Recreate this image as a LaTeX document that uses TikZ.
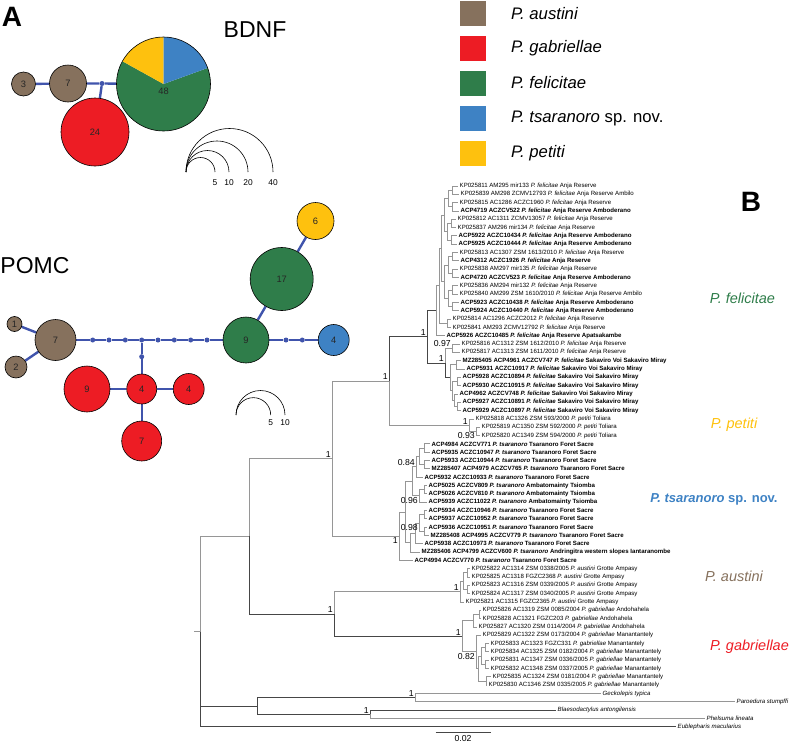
\documentclass[tikz,border=0pt]{standalone}
\usepackage{fontspec}
\setmainfont{Liberation Sans}
\usetikzlibrary{backgrounds}

\definecolor{caus}{RGB}{134,113,93}
\definecolor{cgab}{RGB}{237,28,36}
\definecolor{cfel}{RGB}{47,125,74}
\definecolor{ctsa}{RGB}{62,130,196}
\definecolor{cpet}{RGB}{254,193,14}
\definecolor{clink}{RGB}{64,84,172}
\definecolor{ctree}{RGB}{150,150,150}
\definecolor{ctreed}{RGB}{70,70,70}

\newcommand{\Pfel}{\textit{P. felicitae}}
\newcommand{\Ppet}{\textit{P. petiti}}
\newcommand{\Ptsa}{\textit{P. tsaranoro}}
\newcommand{\Paus}{\textit{P. austini}}
\newcommand{\Pgab}{\textit{P. gabriellae}}

\tikzset{
  panel/.style={font=\fontsize{28}{28}\selectfont\bfseries, inner sep=0pt},
  gene/.style={font=\fontsize{23}{23}\selectfont, inner sep=0pt},
  keybox/.style={minimum width=26pt, minimum height=25pt, inner sep=0pt},
  keytext/.style={anchor=west, inner sep=0pt, font=\fontsize{16.7}{17}\selectfont},
  hap/.style={circle, draw=black, line width=0.6pt, inner sep=0pt, text=black!85, font=\fontsize{9.3}{10}\selectfont},
  hapnum/.style={inner sep=0pt, text=black!85, font=\fontsize{9.3}{10}\selectfont},
  mv/.style={circle, fill=clink, inner sep=0pt, minimum size=5pt},
  link/.style={draw=clink, line width=2.4pt},
  sc/.style={draw=black, line width=0.6pt},
  scl/.style={inner sep=0pt, font=\fontsize{8.4}{9}\selectfont},
  branch/.style={draw=ctree, line width=0.9pt},
  branchd/.style={draw=ctreed, line width=0.9pt},
  lab/.style={anchor=west, inner sep=1.5pt, font=\fontsize{6.1}{7}\selectfont},
  labb/.style={anchor=west, inner sep=1.5pt, font=\fontsize{6.1}{7}\selectfont\bfseries},
  supp/.style={inner sep=1pt, font=\fontsize{8.7}{9}\selectfont},
  clade/.style={inner sep=0pt, font=\fontsize{14.5}{15}\selectfont\itshape}
}

\begin{document}
\begin{tikzpicture}[x=1pt,y=-1pt]
  \useasboundingbox (0,0) rectangle (790,742);

  % panel letters and gene names
  \node[panel] (lA) at (12,17) {A};
  \node[panel] (lB) at (751,202) {B};
  \node[gene] (gbdnf) at (255,30) {BDNF};
  \node[gene] (gpomc) at (35,266) {POMC};

  % legend
  \foreach \c/\t/\y in {caus/\textit{P. austini}/13.5,cgab/\textit{P. gabriellae}/48,cfel/\textit{P. felicitae}/83,ctsa/\textit{P. tsaranoro} sp. nov./118,cpet/\textit{P. petiti}/153}
    {
      \node[keybox, fill=\c] (k\c) at (473,\y) {};
      \node[keytext] (kt\c) at (511,\y) {\t};
    }

  % BDNF network
  \node[hap, fill=caus, minimum size=24pt] (b3) at (23.5,84) {3};
  \node[hap, fill=caus, minimum size=37pt] (b7) at (68,83.5) {7};
  \node[mv] (bm) at (102,83.5) {};
  \node[hap, fill=cgab, minimum size=68pt] (b24) at (95,132) {24};
  \node[circle, inner sep=0pt, minimum size=94pt] (b48) at (163.5,84) {};
  \fill[cfel] (b48.center) -- ++(-20:47) arc[start angle=-20, end angle=209, radius=47] -- cycle;
  \fill[cpet] (b48.center) -- ++(-151:47) arc[start angle=-151, end angle=-90, radius=47] -- cycle;
  \fill[ctsa] (b48.center) -- ++(-90:47) arc[start angle=-90, end angle=-20, radius=47] -- cycle;
  \draw[line width=0.6pt] (b48.center) circle[radius=47];
  \node[hapnum] (n48) at (163.5,91) {48};
  \foreach \r/\n in {14.5/5,21.5/10,31/20,43.5/40}
    {
      \draw[sc] (186,172) arc[start angle=180, end angle=360, radius=\r];
      \node[scl] at ({186+2*\r},182.3) {\n};
    }

  % POMC network
  \node[hap, fill=caus, minimum size=15pt] (p1) at (14.5,324) {1};
  \node[hap, fill=caus, minimum size=22pt] (p2) at (16,367) {2};
  \node[hap, fill=caus, minimum size=41pt] (p7) at (55.5,340) {7};
  \foreach \i/\x in {1/92.7,2/109,3/125.3,4/141.7,5/158,6/174.3,7/190.7,8/207}
    \node[mv] (d\i) at (\x,340) {};
  \node[mv] (dv) at (141.7,356.7) {};
  \node[mv] (e1) at (286,340) {};
  \node[mv] (e2) at (302.3,340) {};
  \node[hap, fill=cgab, minimum size=46pt] (r9) at (87,389) {9};
  \node[hap, fill=cgab, minimum size=30pt] (r4) at (141.7,389) {4};
  \node[hap, fill=cgab, minimum size=31pt] (r4b) at (188.7,389) {4};
  \node[hap, fill=cgab, minimum size=40pt] (r7) at (141.7,441) {7};
  \node[hap, fill=cfel, minimum size=46pt] (g9) at (246,340) {9};
  \node[hap, fill=cfel, minimum size=63pt] (g17) at (281.7,279) {17};
  \node[hap, fill=cpet, minimum size=37pt] (y6) at (315.5,221) {6};
  \node[hap, fill=ctsa, minimum size=31pt] (u4) at (333.7,340) {4};
  \foreach \r/\n in {17.35/5,24.5/10}
    {
      \draw[sc] (236,415) arc[start angle=180, end angle=360, radius=\r];
      \node[scl] at ({236+2*\r},422.7) {\n};
    }

  \begin{scope}[on background layer]
    \draw[link] (b3) -- (b7) -- (bm) -- (b48);
    \draw[link] (bm) -- (b24);
    \draw[link] (p1) -- (p7);
    \draw[link] (p2) -- (p7);
    \draw[link] (p7) -- (d1) -- (d2) -- (d3) -- (d4) -- (d5) -- (d6) -- (d7) -- (d8) -- (g9);
    \draw[link] (d4) -- (dv) -- (r4);
    \draw[link] (r9) -- (r4) -- (r4b);
    \draw[link] (r4) -- (r7);
    \draw[link] (g9) -- (e1) -- (e2) -- (u4);
    \draw[link] (g9) -- (g17) -- (y6);
  \end{scope}

  % tree: tips
  \foreach \i/\x in {1/458,2/459,3/458,4/459,5/456,6/456,7/457,8/457,9/458,10/459,11/458,12/459,13/458,14/458,15/459,16/459,17/451,18/451,19/445,20/460,21/460,22/461,23/465,24/461,25/461,26/458,27/461,28/461,29/474,30/480,31/480,32/430,33/430,34/430,35/430,36/423,37/427,38/427,39/427,40/427,41/427,42/427,43/429,44/423,45/420,46/413,47/470,48/470,49/470,50/470,51/464,52/481,53/481,54/477,55/481,56/489,57/489,58/489,59/489,60/491,61/487,62/601,63/735,64/556,65/705,66/676}
    \coordinate (t\i) at (\x,{186+8.32*(\i-1)});

  % tree: internal nodes
  \foreach \n/\x/\y in {f12/452/190.2,f34/452/206.8,f14/448/198.5,f56/451/223.4,f78/451/240.1,f58/447/231.8,f910/452/256.7,f1112/452/273.4,f912/448/265.0,f1314/452/290.0,f1516/452/306.6,f1316/448/298.3,fA/444/215.1,fB/444/281.7,fC/441/248.4,f1718/447/323.3,fD/439/285.8,fE/436/310.8,f2021/452/348.2,s2223/456/364.9,s2425/457/381.5,s2728/457/406.5,s26/454/400.2,s24/452/390.9,sK/450/377.9,fF/445/363.1,fel/427/336.9,p3031/476/431.4,pet/469/425.2,fp/389/381.1,tA/424/448.1,tB/424/464.7,tC/419/456.4,tD/416/466.8,tE/424/489.7,tF/419/495.9,tG/412/481.4,tH/424/514.6,tI/424/531.3,tJ/419/523.0,tK/415/533.4,tL/410/542.7,tM/405/512.0,tsa/399/536.2,fpt/332/458.6,a12/467/572.9,a34/467/589.5,a14/463/581.2,aus/460/591.6,g12/479/614.5,g13/473/620.7,m12/485/647.8,m34/485/664.4,m14/481/656.1,m56/486/681.0,m16/478/668.6,man/476/651.9,gab/462/636.3,ag/334/614.0,ing/249/536.3,gp/415/697.7,bp/370/714.3,og/257/706.0,root/200/631.5}
    \coordinate (\n) at (\x,\y);

  % tree: branches
  \foreach \p/\c in {f12/t1,f12/t2,f34/t3,f34/t4,f14/f12,f14/f34,f56/t5,f56/t6,f78/t7,f78/t8,f58/f56,f58/f78,f910/t9,f910/t10,f1112/t11,f1112/t12,f912/f910,f912/f1112,f1314/t13,f1314/t14,f1516/t15,f1516/t16,f1316/f1314,f1316/f1516,fA/f14,fA/f58,fB/f912,fB/f1316,fC/fA,fC/fB,f1718/t17,f1718/t18,fD/fC,fD/f1718,fE/fD,fE/t19,f2021/t20,f2021/t21,s2223/t22,s2223/t23,s2425/t24,s2425/t25,s2728/t27,s2728/t28,s26/t26,s26/s2728,s24/s2425,s24/s26,sK/s2223,sK/s24,fF/f2021,p3031/t30,p3031/t31,pet/t29,pet/p3031,fp/pet,tA/t32,tA/t33,tB/t34,tB/t35,tC/tA,tC/tB,tD/tC,tD/t36,tE/t37,tE/t38,tF/tE,tF/t39,tG/tD,tG/tF,tH/t40,tH/t41,tI/t42,tI/t43,tJ/tH,tJ/tI,tK/tJ,tK/t44,tL/tK,tL/t45,tM/tG,tM/tL,tsa/tM,tsa/t46,fpt/fp,fpt/tsa,a12/t47,a12/t48,a34/t49,a34/t50,a14/a12,a14/a34,aus/a14,aus/t51,g12/t52,g12/t53,g13/g12,g13/t54,m12/t56,m12/t57,m34/t58,m34/t59,m14/m12,m14/m34,m56/t60,m56/t61,m16/m14,m16/m56,man/t55,man/m16,gab/g13,gab/man,ag/aus,ing/fpt,gp/t62,gp/t63,bp/t65,root/ing}
    \draw[branch] (\p) |- (\c);
  \foreach \p/\c in {fp/fel,fel/fE,fel/fF,fF/sK,ag/gab,ing/ag,root/og,og/gp,og/bp,bp/t64,root/t66}
    \draw[branchd] (\p) |- (\c);
  \draw[branch] (root) -- ++(-6,0);

  % tree: support values
  \node[supp, anchor=south east] (v1) at (fpt) {1};
  \node[supp, anchor=south east] (v2) at (fp) {1};
  \node[supp, anchor=south east] (v3) at (fel) {1};
  \node[supp, anchor=south east] (v4) at (f2021) {0.97};
  \node[supp, anchor=south east] (v5) at (fF) {1};
  \node[supp, anchor=south east] (v6) at (pet) {1};
  \node[supp, anchor=north east] (v7) at (p3031) {0.93};
  \node[supp, anchor=south east] (v8) at (tD) {0.84};
  \node[supp, anchor=north east] (v9) at (tF) {0.96};
  \node[supp, anchor=north east] (v10) at (tJ) {0.98};
  \node[supp, anchor=north east] (v11) at (tsa) {1};
  \node[supp, anchor=south east] (v12) at (aus) {1};
  \node[supp, anchor=south east] (v13) at (gab) {1};
  \node[supp, anchor=north east] (v14) at (man) {0.82};
  \node[supp, anchor=south east] (v15) at (ag) {1};
  \node[supp, anchor=south east] (v16) at (gp) {1};
  \node[supp, anchor=south east] (v17) at (bp) {1};

  % tree: tip labels
  \node[lab] (n1) at (t1) {KP025811 AM295 mir133 \Pfel{} Anja Reserve};
  \node[lab] (n2) at (t2) {KP025839 AM298 ZCMV12793 \Pfel{} Anja Reserve Ambilo};
  \node[lab] (n3) at (t3) {KP025815 AC1286 ACZC1960 \Pfel{} Anja Reserve};
  \node[labb] (n4) at (t4) {ACP4719 ACZCV522 \Pfel{} Anja Reserve Amboderano};
  \node[lab] (n5) at (t5) {KP025812 AC1311 ZCMV13057 \Pfel{} Anja Reserve};
  \node[lab] (n6) at (t6) {KP025837 AM296 mir134 \Pfel{} Anja Reserve};
  \node[labb] (n7) at (t7) {ACP5922 ACZC10434 \Pfel{} Anja Reserve Amboderano};
  \node[labb] (n8) at (t8) {ACP5925 ACZC10444 \Pfel{} Anja Reserve Amboderano};
  \node[lab] (n9) at (t9) {KP025813 AC1307 ZSM 1613/2010 \Pfel{} Anja Reserve};
  \node[labb] (n10) at (t10) {ACP4312 ACZC1926 \Pfel{} Anja Reserve};
  \node[lab] (n11) at (t11) {KP025838 AM297 mir135 \Pfel{} Anja Reserve};
  \node[labb] (n12) at (t12) {ACP4720 ACZCV523 \Pfel{} Anja Reserve Amboderano};
  \node[lab] (n13) at (t13) {KP025836 AM294 mir132 \Pfel{} Anja Reserve};
  \node[lab] (n14) at (t14) {KP025840 AM299 ZSM 1610/2010 \Pfel{} Anja Reserve Ambilo};
  \node[labb] (n15) at (t15) {ACP5923 ACZC10438 \Pfel{} Anja Reserve Amboderano};
  \node[labb] (n16) at (t16) {ACP5924 ACZC10440 \Pfel{} Anja Reserve Amboderano};
  \node[lab] (n17) at (t17) {KP025814 AC1296 ACZC2012 \Pfel{} Anja Reserve};
  \node[lab] (n18) at (t18) {KP025841 AM293 ZCMV12792 \Pfel{} Anja Reserve};
  \node[labb] (n19) at (t19) {ACP5926 ACZC10485 \Pfel{} Anja Reserve Apatsakambe};
  \node[lab] (n20) at (t20) {KP025816 AC1312 ZSM 1612/2010 \Pfel{} Anja Reserve};
  \node[lab] (n21) at (t21) {KP025817 AC1313 ZSM 1611/2010 \Pfel{} Anja Reserve};
  \node[labb] (n22) at (t22) {MZ285405 ACP4961 ACZCV747 \Pfel{} Sakaviro Voi Sakaviro Miray};
  \node[labb] (n23) at (t23) {ACP5931 ACZC10917 \Pfel{} Sakaviro Voi Sakaviro Miray};
  \node[labb] (n24) at (t24) {ACP5928 ACZC10894 \Pfel{} Sakaviro Voi Sakaviro Miray};
  \node[labb] (n25) at (t25) {ACP5930 ACZC10915 \Pfel{} Sakaviro Voi Sakaviro Miray};
  \node[labb] (n26) at (t26) {ACP4962 ACZCV748 \Pfel{} Sakaviro Voi Sakaviro Miray};
  \node[labb] (n27) at (t27) {ACP5927 ACZC10891 \Pfel{} Sakaviro Voi Sakaviro Miray};
  \node[labb] (n28) at (t28) {ACP5929 ACZC10897 \Pfel{} Sakaviro Voi Sakaviro Miray};
  \node[lab] (n29) at (t29) {KP025818 AC1326 ZSM 593/2000 \Ppet{} Toliara};
  \node[lab] (n30) at (t30) {KP025819 AC1350 ZSM 592/2000 \Ppet{} Toliara};
  \node[lab] (n31) at (t31) {KP025820 AC1349 ZSM 594/2000 \Ppet{} Toliara};
  \node[labb] (n32) at (t32) {ACP4984 ACZCV771 \Ptsa{} Tsaranoro Foret Sacre};
  \node[labb] (n33) at (t33) {ACP5935 ACZC10947 \Ptsa{} Tsaranoro Foret Sacre};
  \node[labb] (n34) at (t34) {ACP5933 ACZC10944 \Ptsa{} Tsaranoro Foret Sacre};
  \node[labb] (n35) at (t35) {MZ285407 ACP4979 ACZCV765 \Ptsa{} Tsaranoro Foret Sacre};
  \node[labb] (n36) at (t36) {ACP5932 ACZC10933 \Ptsa{} Tsaranoro Foret Sacre};
  \node[labb] (n37) at (t37) {ACP5025 ACZCV809 \Ptsa{} Ambatomainty Tsiomba};
  \node[labb] (n38) at (t38) {ACP5026 ACZCV810 \Ptsa{} Ambatomainty Tsiomba};
  \node[labb] (n39) at (t39) {ACP5939 ACZC11022 \Ptsa{} Ambatomainty Tsiomba};
  \node[labb] (n40) at (t40) {ACP5934 ACZC10946 \Ptsa{} Tsaranoro Foret Sacre};
  \node[labb] (n41) at (t41) {ACP5937 ACZC10952 \Ptsa{} Tsaranoro Foret Sacre};
  \node[labb] (n42) at (t42) {ACP5936 ACZC10951 \Ptsa{} Tsaranoro Foret Sacre};
  \node[labb] (n43) at (t43) {MZ285408 ACP4995 ACZCV779 \Ptsa{} Tsaranoro Foret Sacre};
  \node[labb] (n44) at (t44) {ACP5938 ACZC10973 \Ptsa{} Tsaranoro Foret Sacre};
  \node[labb] (n45) at (t45) {MZ285406 ACP4799 ACZCV600 \Ptsa{} Andringitra western slopes Iantaranombe};
  \node[labb] (n46) at (t46) {ACP4994 ACZCV770 \Ptsa{} Tsaranoro Foret Sacre};
  \node[lab] (n47) at (t47) {KP025822 AC1314 ZSM 0338/2005 \Paus{} Grotte Ampasy};
  \node[lab] (n48) at (t48) {KP025825 AC1318 FGZC2368 \Paus{} Grotte Ampasy};
  \node[lab] (n49) at (t49) {KP025823 AC1316 ZSM 0339/2005 \Paus{} Grotte Ampasy};
  \node[lab] (n50) at (t50) {KP025824 AC1317 ZSM 0340/2005 \Paus{} Grotte Ampasy};
  \node[lab] (n51) at (t51) {KP025821 AC1315 FGZC2365 \Paus{} Grotte Ampasy};
  \node[lab] (n52) at (t52) {KP025826 AC1319 ZSM 0085/2004 \Pgab{} Andohahela};
  \node[lab] (n53) at (t53) {KP025828 AC1321 FGZC203 \Pgab{} Andohahela};
  \node[lab] (n54) at (t54) {KP025827 AC1320 ZSM 0114/2004 \Pgab{} Andohahela};
  \node[lab] (n55) at (t55) {KP025829 AC1322 ZSM 0173/2004 \Pgab{} Manantantely};
  \node[lab] (n56) at (t56) {KP025833 AC1323 FGZC331 \Pgab{} Manantantely};
  \node[lab] (n57) at (t57) {KP025834 AC1325 ZSM 0182/2004 \Pgab{} Manantantely};
  \node[lab] (n58) at (t58) {KP025831 AC1347 ZSM 0336/2005 \Pgab{} Manantantely};
  \node[lab] (n59) at (t59) {KP025832 AC1348 ZSM 0337/2005 \Pgab{} Manantantely};
  \node[lab] (n60) at (t60) {KP025835 AC1324 ZSM 0181/2004 \Pgab{} Manantantely};
  \node[lab] (n61) at (t61) {KP025830 AC1346 ZSM 0335/2005 \Pgab{} Manantantely};
  \node[lab] (n62) at (t62) {\textit{Geckolepis typica}};
  \node[lab] (n63) at (t63) {\textit{Paroedura stumpffi}};
  \node[lab] (n64) at (t64) {\textit{Blaesodactylus antongilensis}};
  \node[lab] (n65) at (t65) {\textit{Phelsuma lineata}};
  \node[lab] (n66) at (t66) {\textit{Eublepharis macularius}};

  % scale bar
  \coordinate (sb1) at (435.7,732);
  \coordinate (sb2) at (490.8,732);
  \draw[branchd] (sb1) -- (sb2);
  \node[supp] (sbl) at (463,738.5) {0.02};

  % clade names
  \node[clade, text=cfel] (cfelname) at (742.5,298) {P. felicitae};
  \node[clade, text=cpet] (cpetname) at (734,425) {P. petiti};
  \node[inner sep=0pt, font=\fontsize{13}{14}\selectfont\bfseries, text=ctsa] (ctsaname) at (714,499) {\textit{P. tsaranoro} sp. nov.};
  \node[clade, text=caus] (causname) at (734,576) {P. austini};
  \node[clade, text=cgab] (cgabname) at (749.5,646.7) {P. gabriellae};
\end{tikzpicture}
\end{document}
